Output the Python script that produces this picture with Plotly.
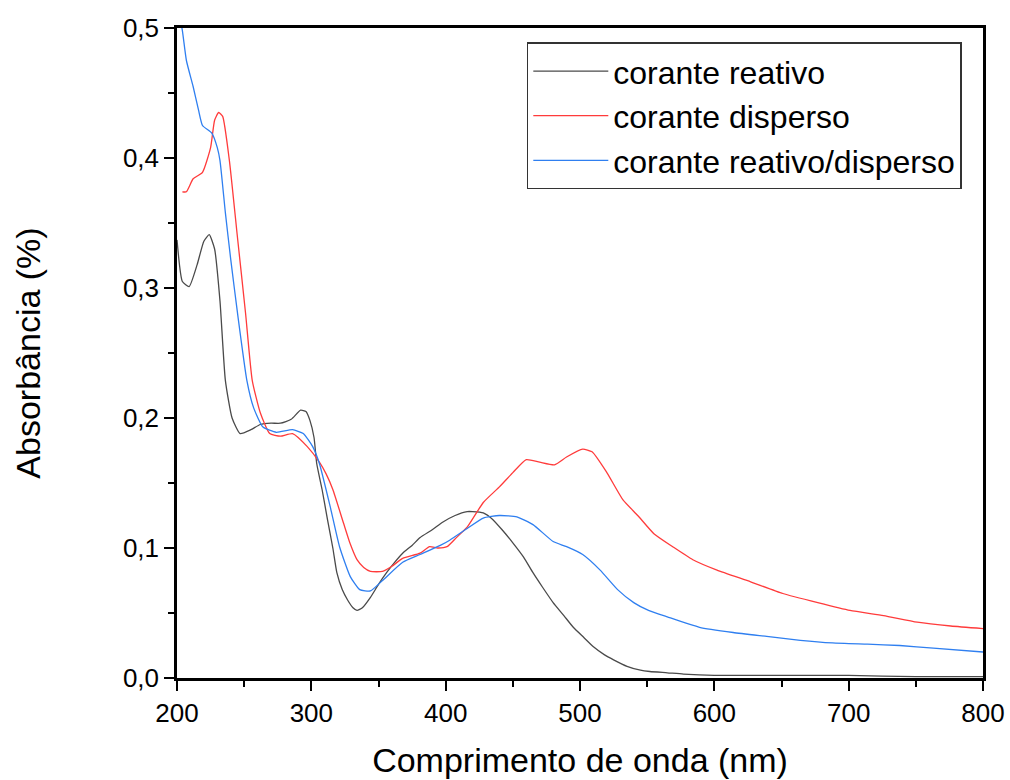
import plotly.graph_objects as go

# corante reativo
wl_reativo = [200, 204, 209, 215, 220, 224, 228, 232, 236, 241, 247, 255, 262, 270, 277, 285, 292, 296, 299,
              302, 304, 308, 312, 316, 319, 323, 327, 331, 334, 338, 344, 350, 356, 362, 368, 375, 381, 390,
              398, 407, 416, 420, 428, 435, 442, 450, 458, 465, 472, 480, 488, 495, 503, 510, 518, 525, 535,
              545, 552, 565, 577, 600, 650, 700, 750, 800]
abs_reativo = [0.337, 0.305, 0.301, 0.318, 0.336, 0.341, 0.330, 0.290, 0.229, 0.200, 0.188, 0.191, 0.195, 0.196,
               0.196, 0.199, 0.206, 0.205, 0.198, 0.185, 0.165, 0.145, 0.122, 0.100, 0.081, 0.068, 0.060, 0.054,
               0.052, 0.054, 0.062, 0.072, 0.081, 0.089, 0.096, 0.102, 0.108, 0.114, 0.120, 0.125, 0.128, 0.128,
               0.127, 0.122, 0.114, 0.104, 0.093, 0.081, 0.070, 0.058, 0.048, 0.039, 0.031, 0.024, 0.018, 0.014,
               0.009, 0.006, 0.005, 0.004, 0.003, 0.002, 0.002, 0.002, 0.001, 0.001]

# corante disperso
wl_disperso = [204, 207, 212, 219, 225, 228, 231, 234, 239, 245, 251, 256, 262, 269, 277, 286, 297, 306, 311, 316,
               324, 329, 334, 339, 344, 353, 360, 368, 381, 388, 394, 401, 408, 416, 428, 440, 450, 460, 470, 481,
               490, 502, 509, 520, 532, 543, 555, 569, 584, 602, 627, 651, 677, 701, 726, 751, 776, 800]
abs_disperso = [0.374, 0.374, 0.384, 0.389, 0.408, 0.429, 0.435, 0.432, 0.398, 0.339, 0.281, 0.229, 0.204, 0.188,
                0.186, 0.188, 0.178, 0.166, 0.157, 0.145, 0.119, 0.103, 0.091, 0.085, 0.082, 0.082, 0.086, 0.092,
                0.096, 0.101, 0.100, 0.101, 0.108, 0.116, 0.135, 0.147, 0.158, 0.168, 0.166, 0.164, 0.170, 0.176,
                0.174, 0.158, 0.137, 0.125, 0.111, 0.101, 0.091, 0.083, 0.074, 0.065, 0.058, 0.052, 0.048, 0.043,
                0.040, 0.038]

# corante reativo/disperso
wl_mistura = [200, 204, 207, 212, 216, 219, 226, 230, 232, 236, 240, 245, 252, 257, 264, 274, 286, 294, 301, 306,
              314, 321, 329, 336, 344, 353, 368, 381, 396, 403, 416, 428, 440, 453, 465, 480, 490, 502, 515, 528,
              540, 551, 565, 589, 614, 639, 664, 688, 714, 738, 763, 800]
abs_mistura = [0.520, 0.498, 0.475, 0.455, 0.437, 0.425, 0.419, 0.408, 0.398, 0.358, 0.322, 0.281, 0.229, 0.208,
               0.193, 0.189, 0.191, 0.188, 0.178, 0.165, 0.132, 0.101, 0.078, 0.068, 0.067, 0.075, 0.089, 0.095,
               0.102, 0.106, 0.115, 0.123, 0.125, 0.124, 0.118, 0.105, 0.101, 0.095, 0.083, 0.068, 0.058, 0.052,
               0.047, 0.039, 0.035, 0.032, 0.029, 0.027, 0.026, 0.025, 0.023, 0.020]

series_names = ["corante reativo", "corante disperso", "corante reativo/disperso"]
x_ticks = [200, 300, 400, 500, 600, 700, 800]
y_ticks = [0.0, 0.1, 0.2, 0.3, 0.4, 0.5]

FONT = "Liberation Sans, Arial, sans-serif"

fig = go.Figure()
for wl, ab, name, color in [
    (wl_reativo, abs_reativo, series_names[0], "#4a4a4a"),
    (wl_disperso, abs_disperso, series_names[1], "#ff3b3b"),
    (wl_mistura, abs_mistura, series_names[2], "#2f7ff0"),
]:
    fig.add_trace(go.Scatter(x=wl, y=ab, mode="lines", name=name,
                             line=dict(color=color, width=1.3, shape="spline", smoothing=0.5)))

axis_common = dict(
    showgrid=False, zeroline=False, showline=True, linecolor="black", linewidth=2.5,
    mirror=True, ticks="outside", ticklen=10, tickwidth=2, tickcolor="black", automargin=False,
    tickfont=dict(family=FONT, size=26, color="black"),
)

fig.update_xaxes(range=[200, 800], tickvals=x_ticks,
                 minor=dict(dtick=50, ticks="outside", ticklen=6, tickwidth=2, tickcolor="black"),
                 title=dict(text="Comprimento de onda (nm)", font=dict(family=FONT, size=34, color="black"),
                            standoff=22),
                 **axis_common)
fig.update_yaxes(range=[0, 0.5], tickvals=y_ticks, tickformat=".1f",
                 minor=dict(dtick=0.05, ticks="outside", ticklen=6, tickwidth=2, tickcolor="black"),
                 title=dict(text="Absorbância (%)", font=dict(family=FONT, size=34, color="black"),
                            standoff=72),
                 **axis_common)

fig.update_layout(
    width=1010, height=780, separators=",.",
    paper_bgcolor="white", plot_bgcolor="white",
    margin=dict(l=177, r=27, t=28, b=102),
    font=dict(family=FONT, color="black"),
    legend=dict(x=0.434, y=0.978, xanchor="left", yanchor="top",
                bgcolor="white", bordercolor="#333333", borderwidth=1.5,
                font=dict(family=FONT, size=32, color="black"), itemwidth=75),
)

fig.write_html("out.html")
